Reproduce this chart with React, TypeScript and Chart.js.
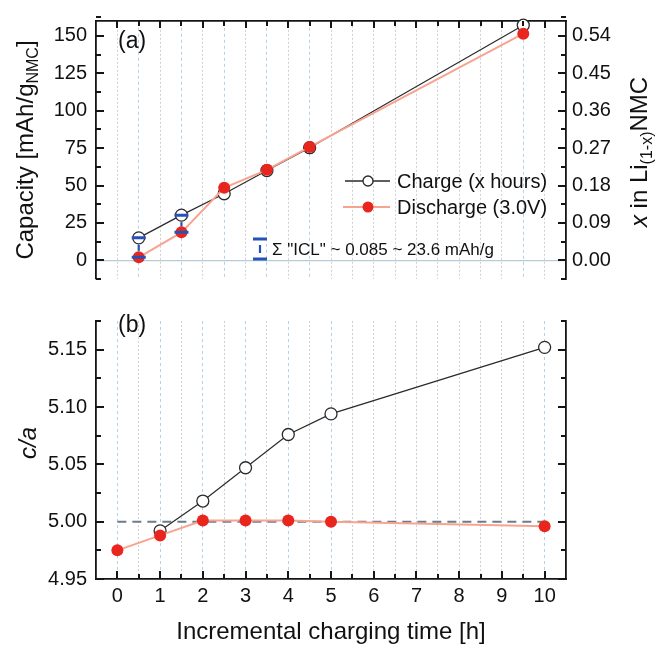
import React, { useEffect, useRef } from "react";
import { Chart, registerables } from "chart.js";

Chart.register(...registerables);

// ---------- data ----------
const timeA = [0.5, 1.5, 2.5, 3.5, 4.5, 9.5];
const capCharge = [15, 30.2, 44.5, 60, 75.3, 157.2];
const capDischarge = [2, 18.7, 48.5, 60.5, 75.8, 151.5];

const iclX = [0.5, 1.5];
const iclHigh = [15, 30.2];
const iclLow = [2, 18.7];

const timeBCharge = [1, 2, 3, 4, 5, 10];
const caCharge = [4.992, 5.018, 5.047, 5.076, 5.094, 5.152];
const timeBDischarge = [0, 1, 2, 3, 4, 5, 10];
const caDischarge = [4.975, 4.988, 5.001, 5.001, 5.001, 5.0, 4.996];

const refLineX = [0, 10];
const refLineY = [5.0, 5.0];

const capTicks = [0, 25, 50, 75, 100, 125, 150];
const xFracTicks = [0.0, 0.09, 0.18, 0.27, 0.36, 0.45, 0.54];
const caTicks = [4.95, 5.0, 5.05, 5.1, 5.15];
const timeTicks = [0, 1, 2, 3, 4, 5, 6, 7, 8, 9, 10];

const legendLabels = ["Charge (x hours)", "Discharge (3.0V)"];
const iclText = "\u03A3 \"ICL\" ~ 0.085 ~ 23.6 mAh/g";

// ranges
const capMin = -12.5, capMax = 160, capMinor = 12.5;
const fracMin = -0.045, fracMax = 0.576, fracMinor = 0.045;
const caMin = 4.95, caMax = 5.175, caMinor = 0.025;
const tMin = -0.5, tMax = 10.5, tMinor = 0.5;

// ---------- styles ----------
const FONT = "'Liberation Sans', Arial, Helvetica, sans-serif";
const AXIS = "#151515";
const TEXT = "#111111";
const BLACK_LINE = "#2a2a2a";
const SALMON = "#f8a390";
const RED = "#e8261e";
const BLUE = "#2452b8";
const GRID_BLUE = "#b3d2e6";
const GRID_GRAY = "#cdd1d6";

function steps(min: number, max: number, step: number) {
  const out: number[] = [];
  const n = Math.round((max - min) / step);
  for (let i = 0; i <= n; i++) out.push(+(min + i * step).toFixed(6));
  return out;
}

const gridTimes = steps(tMin, tMax, tMinor);

type Seg = { text: string; font: string; dy?: number };

function drawRich(ctx: CanvasRenderingContext2D, segs: Seg[], x: number, y: number, align: "left" | "center") {
  let w = 0;
  for (const s of segs) {
    ctx.font = s.font;
    w += ctx.measureText(s.text).width;
  }
  let cx = align === "center" ? x - w / 2 : x;
  ctx.textAlign = "left";
  ctx.textBaseline = "alphabetic";
  for (const s of segs) {
    ctx.font = s.font;
    ctx.fillText(s.text, cx, y + (s.dy || 0));
    cx += ctx.measureText(s.text).width;
  }
}

function drawRotated(ctx: CanvasRenderingContext2D, segs: Seg[], baseX: number, centerY: number) {
  ctx.save();
  ctx.translate(baseX, centerY);
  ctx.rotate(-Math.PI / 2);
  drawRich(ctx, segs, 0, 0, "center");
  ctx.restore();
}

function tickMarks(
  ctx: CanvasRenderingContext2D,
  scale: any,
  values: number[],
  len: number,
  side: "left" | "right" | "top" | "bottom",
  area: any
) {
  ctx.save();
  ctx.strokeStyle = AXIS;
  ctx.lineWidth = 2;
  ctx.setLineDash([]);
  ctx.beginPath();
  for (const v of values) {
    const p = Math.round(scale.getPixelForValue(v));
    if (side === "left") {
      ctx.moveTo(area.left, p);
      ctx.lineTo(area.left + len, p);
    } else if (side === "right") {
      ctx.moveTo(area.right, p);
      ctx.lineTo(area.right - len, p);
    } else if (side === "top") {
      ctx.moveTo(p, area.top);
      ctx.lineTo(p, area.top + len);
    } else {
      ctx.moveTo(p, area.bottom);
      ctx.lineTo(p, area.bottom - len);
    }
  }
  ctx.stroke();
  ctx.restore();
}

function minorOf(all: number[], major: number[]) {
  return all.filter((v) => !major.some((m) => Math.abs(m - v) < 1e-6));
}

function vGridColor(dataPos: number[]) {
  return (c: any) => {
    const v = c.tick ? c.tick.value : NaN;
    if (isNaN(v) || v <= tMin + 1e-6 || v >= tMax - 1e-6) return "rgba(0,0,0,0)";
    return dataPos.some((d) => Math.abs(d - v) < 1e-6) ? GRID_BLUE : GRID_GRAY;
  };
}
function vGridDash(dataPos: number[]) {
  return (c: any) => {
    const v = c.tick ? c.tick.value : NaN;
    if (isNaN(v)) return [];
    return dataPos.some((d) => Math.abs(d - v) < 1e-6) ? [3, 3] : [2, 2];
  };
}

// ---------- top chart ----------
function makeTopConfig(): any {
  const decor = {
    id: "topDecor",
    afterDatasetsDraw(chart: any) {
      const { ctx, scales } = chart;
      const x = scales.x, y = scales.y;
      ctx.save();
      ctx.strokeStyle = BLUE;
      for (let i = 0; i < iclX.length; i++) {
        const px = x.getPixelForValue(iclX[i]);
        const ph = y.getPixelForValue(iclHigh[i]);
        const pl = y.getPixelForValue(iclLow[i]);
        ctx.lineWidth = 3;
        ctx.setLineDash([]);
        ctx.beginPath();
        ctx.moveTo(px - 7, ph);
        ctx.lineTo(px + 7, ph);
        ctx.moveTo(px - 7, pl);
        ctx.lineTo(px + 7, pl);
        ctx.stroke();
        ctx.lineWidth = 2.2;
        ctx.setLineDash([6, 4]);
        ctx.beginPath();
        ctx.moveTo(px, ph + 7);
        ctx.lineTo(px, pl - 6);
        ctx.stroke();
      }
      ctx.restore();
    },
    afterDraw(chart: any) {
      const { ctx, chartArea: a, scales } = chart;
      const x = scales.x, y = scales.y, y2 = scales.y2;
      // ticks (inward)
      tickMarks(ctx, y, capTicks, 8, "left", a);
      tickMarks(ctx, y, minorOf(steps(capMin, capMax, capMinor), capTicks), 5, "left", a);
      tickMarks(ctx, y2, xFracTicks, 8, "right", a);
      tickMarks(ctx, y2, minorOf(steps(fracMin, fracMax, fracMinor), xFracTicks), 5, "right", a);
      tickMarks(ctx, x, timeTicks, 7, "top", a);
      tickMarks(ctx, x, minorOf(steps(0, 10, tMinor), timeTicks), 5, "top", a);

      ctx.save();
      // annotation symbol + text
      const sx = a.left + 164, st = 239, sb = 259;
      ctx.strokeStyle = BLUE;
      ctx.lineWidth = 3;
      ctx.setLineDash([]);
      ctx.beginPath();
      ctx.moveTo(sx - 7, st);
      ctx.lineTo(sx + 7, st);
      ctx.moveTo(sx - 7, sb);
      ctx.lineTo(sx + 7, sb);
      ctx.stroke();
      ctx.lineWidth = 2.2;
      ctx.beginPath();
      ctx.moveTo(sx, st + 6);
      ctx.lineTo(sx, sb - 6);
      ctx.stroke();
      ctx.fillStyle = TEXT;
      drawRich(ctx, [{ text: iclText, font: `17px ${FONT}` }], sx + 12, 255, "left");

      // legend
      const lx0 = 345, lx1 = 390, lmx = 368;
      const rows = [181, 207];
      ctx.lineWidth = 1.3;
      ctx.strokeStyle = BLACK_LINE;
      ctx.beginPath();
      ctx.moveTo(lx0, rows[0]);
      ctx.lineTo(lx1, rows[0]);
      ctx.stroke();
      ctx.beginPath();
      ctx.arc(lmx, rows[0], 5, 0, Math.PI * 2);
      ctx.fillStyle = "#fff";
      ctx.fill();
      ctx.stroke();
      ctx.lineWidth = 2;
      ctx.strokeStyle = SALMON;
      ctx.beginPath();
      ctx.moveTo(lx0 - 2, rows[1]);
      ctx.lineTo(lx1, rows[1]);
      ctx.stroke();
      ctx.beginPath();
      ctx.arc(lmx, rows[1], 5.5, 0, Math.PI * 2);
      ctx.fillStyle = RED;
      ctx.fill();
      ctx.fillStyle = TEXT;
      drawRich(ctx, [{ text: legendLabels[0], font: `20px ${FONT}` }], 397, 188, "left");
      drawRich(ctx, [{ text: legendLabels[1], font: `20px ${FONT}` }], 397, 214, "left");

      // panel label
      drawRich(ctx, [{ text: "(a)", font: `23px ${FONT}` }], 118, 48, "left");

      // axis titles
      drawRotated(
        ctx,
        [
          { text: "Capacity [mAh/g", font: `24px ${FONT}` },
          { text: "NMC", font: `16px ${FONT}`, dy: 5 },
          { text: "]", font: `24px ${FONT}` },
        ],
        33,
        150
      );
      drawRotated(
        ctx,
        [
          { text: "x", font: `italic 24px ${FONT}` },
          { text: " in Li", font: `24px ${FONT}` },
          { text: "(1-x)", font: `16px ${FONT}`, dy: 5 },
          { text: "NMC", font: `24px ${FONT}` },
        ],
        647,
        152
      );
      ctx.restore();
    },
  };

  return {
    type: "scatter",
    data: {
      datasets: [
        {
          label: legendLabels[1],
          data: timeA.map((t, i) => ({ x: t, y: capDischarge[i] })),
          showLine: true,
          borderColor: SALMON,
          borderWidth: 2,
          pointRadius: 6,
          pointBackgroundColor: RED,
          pointBorderColor: RED,
          pointBorderWidth: 0,
          clip: false,
          order: 1,
        },
        {
          label: legendLabels[0],
          data: timeA.map((t, i) => ({ x: t, y: capCharge[i] })),
          showLine: true,
          borderColor: BLACK_LINE,
          borderWidth: 1.2,
          pointRadius: 6,
          pointBackgroundColor: "#ffffff",
          pointBorderColor: BLACK_LINE,
          pointBorderWidth: 1.3,
          clip: false,
          order: 2,
        },
      ],
    },
    options: {
      responsive: false,
      animation: false,
      devicePixelRatio: 1,
      layout: { padding: { top: 0, bottom: 10, left: 0, right: 0 } },
      plugins: { legend: { display: false }, tooltip: { enabled: false } },
      scales: {
        x: {
          type: "linear",
          position: "top",
          min: tMin,
          max: tMax,
          afterBuildTicks: (s: any) => {
            s.ticks = gridTimes.map((v) => ({ value: v }));
          },
          afterFit: (s: any) => {
            s.height = 14;
          },
          ticks: { display: false },
          grid: { drawTicks: false, color: vGridColor(timeA), lineWidth: 1 },
          border: { display: true, color: AXIS, width: 1.8, dash: vGridDash(timeA) },
        },
        y: {
          type: "linear",
          position: "left",
          min: capMin,
          max: capMax,
          afterBuildTicks: (s: any) => {
            s.ticks = capTicks.map((v) => ({ value: v }));
          },
          afterFit: (s: any) => {
            s.width = 96;
          },
          ticks: { font: { family: FONT, size: 20 }, color: TEXT, padding: 9, callback: (v: any) => String(v) },
          grid: {
            drawTicks: false,
            color: (c: any) => (c.tick && c.tick.value === 0 ? "#b9cad8" : "rgba(0,0,0,0)"),
            lineWidth: 1.2,
          },
          border: { display: true, color: AXIS, width: 1.8 },
        },
        y2: {
          type: "linear",
          position: "right",
          min: fracMin,
          max: fracMax,
          afterBuildTicks: (s: any) => {
            s.ticks = xFracTicks.map((v) => ({ value: v }));
          },
          afterFit: (s: any) => {
            s.width = 89;
          },
          ticks: {
            font: { family: FONT, size: 20 },
            color: TEXT,
            padding: 6,
            callback: (v: any) => Number(v).toFixed(2),
          },
          grid: { display: false, drawTicks: false },
          border: { display: true, color: AXIS, width: 1.8 },
        },
      },
    },
    plugins: [decor],
  };
}

// ---------- bottom chart ----------
function makeBottomConfig(): any {
  const decor = {
    id: "botDecor",
    afterDraw(chart: any) {
      const { ctx, chartArea: a, scales } = chart;
      const x = scales.x, y = scales.y, y2 = scales.y2;
      tickMarks(ctx, y, caTicks, 8, "left", a);
      tickMarks(ctx, y, minorOf(steps(caMin, caMax, caMinor), caTicks), 5, "left", a);
      tickMarks(ctx, y2, caTicks, 8, "right", a);
      tickMarks(ctx, y2, minorOf(steps(caMin, caMax, caMinor), caTicks), 5, "right", a);
      tickMarks(ctx, x, timeTicks, 8, "bottom", a);
      tickMarks(ctx, x, minorOf(steps(0, 10, tMinor), timeTicks), 5, "bottom", a);

      ctx.save();
      ctx.fillStyle = TEXT;
      drawRich(ctx, [{ text: "(b)", font: `23px ${FONT}` }], 118, 332 - 300, "left");
      drawRotated(ctx, [{ text: "c/a", font: `italic 24px ${FONT}` }], 36, 443 - 300);
      drawRich(
        ctx,
        [{ text: "Incremental charging time [h]", font: `24px ${FONT}` }],
        (a.left + a.right) / 2,
        639 - 300,
        "center"
      );
      ctx.restore();
    },
  };

  return {
    type: "scatter",
    data: {
      datasets: [
        {
          label: legendLabels[1],
          data: timeBDischarge.map((t, i) => ({ x: t, y: caDischarge[i] })),
          showLine: true,
          borderColor: SALMON,
          borderWidth: 2,
          pointRadius: 6,
          pointBackgroundColor: RED,
          pointBorderColor: RED,
          pointBorderWidth: 0,
          clip: false,
          order: 1,
        },
        {
          label: legendLabels[0],
          data: timeBCharge.map((t, i) => ({ x: t, y: caCharge[i] })),
          showLine: true,
          borderColor: BLACK_LINE,
          borderWidth: 1.2,
          pointRadius: 6,
          pointBackgroundColor: "#ffffff",
          pointBorderColor: BLACK_LINE,
          pointBorderWidth: 1.3,
          clip: false,
          order: 2,
        },
        {
          label: "ref",
          data: refLineX.map((t, i) => ({ x: t, y: refLineY[i] })),
          showLine: true,
          borderColor: "#6d7c8a",
          borderWidth: 2,
          borderDash: [9, 6],
          pointRadius: 0,
          order: 3,
        },
      ],
    },
    options: {
      responsive: false,
      animation: false,
      devicePixelRatio: 1,
      layout: { padding: { top: 3, bottom: 0, left: 0, right: 0 } },
      plugins: { legend: { display: false }, tooltip: { enabled: false } },
      scales: {
        x: {
          type: "linear",
          position: "bottom",
          min: tMin,
          max: tMax,
          afterBuildTicks: (s: any) => {
            s.ticks = gridTimes.map((v) => ({ value: v }));
          },
          afterFit: (s: any) => {
            s.height = 67;
          },
          ticks: {
            autoSkip: false,
            maxRotation: 0,
            font: { family: FONT, size: 20 },
            color: TEXT,
            padding: 5,
            callback: (v: any) => (timeTicks.includes(Number(v)) ? String(v) : ""),
          },
          grid: { drawTicks: false, color: vGridColor(timeBDischarge), lineWidth: 1 },
          border: { display: true, color: AXIS, width: 1.8, dash: vGridDash(timeBDischarge) },
        },
        y: {
          type: "linear",
          position: "left",
          min: caMin,
          max: caMax,
          afterBuildTicks: (s: any) => {
            s.ticks = caTicks.map((v) => ({ value: v }));
          },
          afterFit: (s: any) => {
            s.width = 96;
          },
          ticks: {
            font: { family: FONT, size: 20 },
            color: TEXT,
            padding: 9,
            callback: (v: any) => Number(v).toFixed(2),
          },
          grid: { display: false, drawTicks: false },
          border: { display: true, color: AXIS, width: 1.8 },
        },
        y2: {
          type: "linear",
          position: "right",
          min: caMin,
          max: caMax,
          afterBuildTicks: (s: any) => {
            s.ticks = caTicks.map((v) => ({ value: v }));
          },
          afterFit: (s: any) => {
            s.width = 89;
          },
          ticks: { display: false },
          grid: { display: false, drawTicks: false },
          border: { display: true, color: AXIS, width: 1.8 },
        },
      },
    },
    plugins: [decor],
  };
}

export default function App() {
  const topRef = useRef<HTMLCanvasElement>(null);
  const botRef = useRef<HTMLCanvasElement>(null);
  useEffect(() => {
    const c1 = new Chart(topRef.current as HTMLCanvasElement, makeTopConfig());
    const c2 = new Chart(botRef.current as HTMLCanvasElement, makeBottomConfig());
    return () => {
      c1.destroy();
      c2.destroy();
    };
  }, []);
  return (
    <div style={{ position: "absolute", left: 0, top: 0, width: 655, height: 646, background: "#ffffff" }}>
      <canvas ref={topRef} width={655} height={300} style={{ position: "absolute", left: 0, top: 0 }} />
      <canvas ref={botRef} width={655} height={346} style={{ position: "absolute", left: 0, top: 300 }} />
    </div>
  );
}
